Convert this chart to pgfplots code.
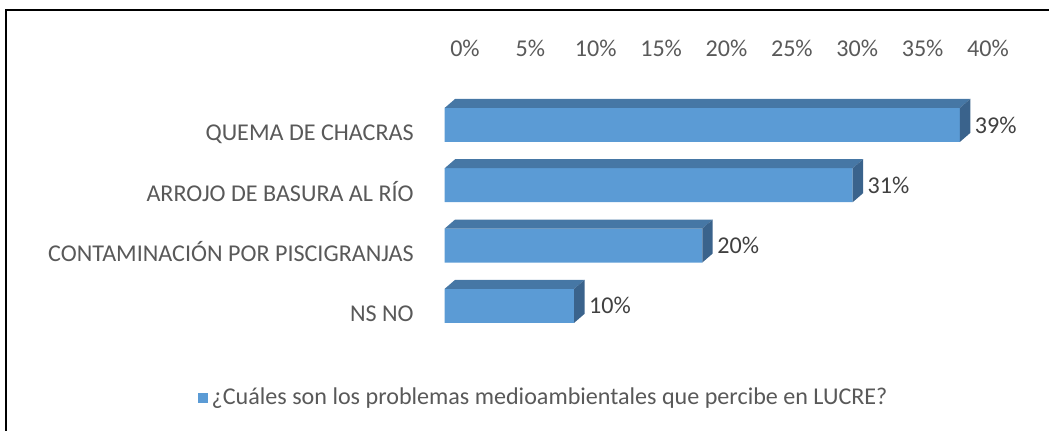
\documentclass[border=0pt]{standalone}
\usepackage{pgfplots}
\pgfplotsset{compat=1.18}
\usepackage{fontspec}
\setmainfont{Carlito}
\definecolor{barblue}{HTML}{5B9BD5}
\definecolor{topcol}{HTML}{4677A5}
\definecolor{sidecol}{HTML}{3A638C}
\definecolor{txtgray}{HTML}{595959}
\definecolor{lblgray}{HTML}{404040}
\newcommand{\chartfont}{\fontsize{12.05}{14}\selectfont}
\pgfdeclareplotmark{bar3d}{%
  \pgfmathsetmacro\Lbar{-\rawx*6.5375}%
  \pgfmathsetmacro\Lbarb{\Lbar+5.2}%
  \pgfpathmoveto{\pgfpoint{\Lbar pt}{8.5pt}}%
  \pgfpathlineto{\pgfpoint{0pt}{8.5pt}}%
  \pgfpathlineto{\pgfpoint{5.2pt}{13pt}}%
  \pgfpathlineto{\pgfpoint{\Lbarb pt}{13pt}}%
  \pgfpathclose
  \pgfsetfillcolor{topcol}%
  \pgfusepath{fill}%
  \pgfpathmoveto{\pgfpoint{0pt}{-8.5pt}}%
  \pgfpathlineto{\pgfpoint{0pt}{8.5pt}}%
  \pgfpathlineto{\pgfpoint{5.2pt}{13pt}}%
  \pgfpathlineto{\pgfpoint{5.2pt}{-4pt}}%
  \pgfpathclose
  \pgfsetfillcolor{sidecol}%
  \pgfusepath{fill}%
}
\begin{document}
\begin{tikzpicture}
\useasboundingbox (0,0) rectangle (524.5pt,215.5pt);
\begin{axis}[
  at={(222.35pt,47.5pt)}, anchor=south west,
  scale only axis, x=6.5375pt, y=30.15pt,
  xmin=0, xmax=40, ymin=-0.5, ymax=3.5,
  clip=false,
  axis x line*=top, axis y line*=left,
  axis line style={draw=none}, major tick length=0pt, tick style={draw=none},
  xtick={0,5,...,40},
  xticklabels={0\%,5\%,10\%,15\%,20\%,25\%,30\%,35\%,40\%},
  xticklabel style={anchor=center, yshift=23pt, xshift=10.15pt, font=\chartfont, text=txtgray},
  ytick={0,1,2,3},
  yticklabels={NS NO, CONTAMINACIÓN POR PISCIGRANJAS, ARROJO DE BASURA AL RÍO, QUEMA DE CHACRAS},
  yticklabel style={anchor=base east, yshift=-8pt, xshift=-12pt, font=\chartfont, text=txtgray},
  /pgf/number format/assume math mode=true,
  legend style={at={(-0.473,-0.257)}, anchor=west, draw=none, fill=none, inner sep=0pt,
    font=\chartfont, text=txtgray},
]
\addplot[xbar, bar width=17pt, fill=barblue, draw=none,
  legend image code/.code={\fill[barblue] (0pt,-2.5pt) rectangle (5pt,2.5pt);},
  point meta=x,
  nodes near coords={\pgfmathprintnumber[fixed,precision=0]{\pgfplotspointmeta}\%},
  every node near coord/.append style={font=\chartfont, text=lblgray, xshift=4pt}]
  coordinates {(39.4,3) (31.2,2) (19.7,1) (9.9,0)};
\addlegendentry{¿Cuáles son los problemas medioambientales que percibe en LUCRE?}
\addplot[scatter, only marks, mark=bar3d, forget plot,
  visualization depends on={x \as \rawx},
  scatter/use mapped color={draw=none, fill=none}]
  coordinates {(39.4,3) (31.2,2) (19.7,1) (9.9,0)};
\end{axis}
\draw[line width=1pt] (2.75pt,0pt) -- (2.75pt,210.5pt) -- (524.5pt,210.5pt);
\end{tikzpicture}
\end{document}
